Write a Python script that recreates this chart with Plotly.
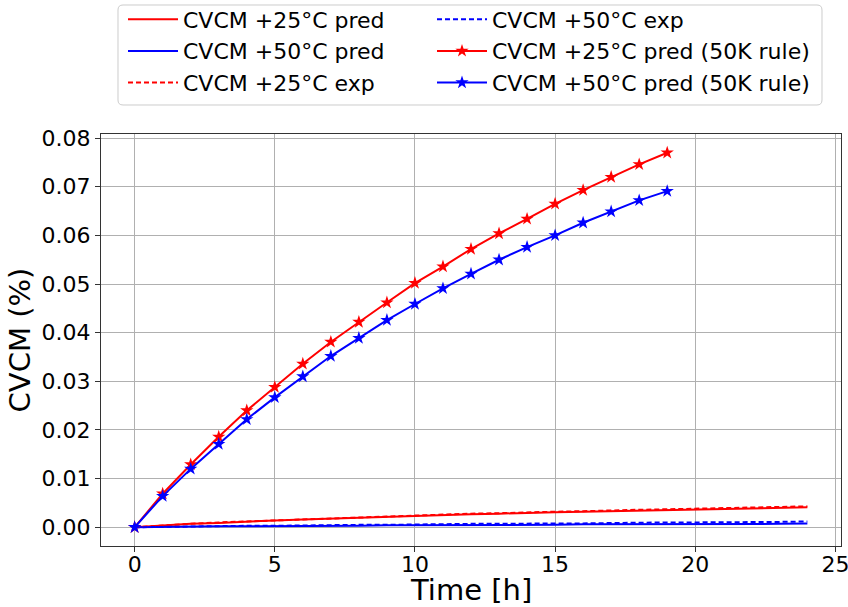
import plotly.graph_objects as go

# ---------------- data ----------------
t_full = list(range(0, 25))
red_pred = [0, 0.0004, 0.0007, 0.0009, 0.0012, 0.0014, 0.0016, 0.0018, 0.0020, 0.0022,
            0.0024, 0.0025, 0.0027, 0.0028, 0.0030, 0.0031, 0.0032, 0.0033, 0.0035, 0.0036,
            0.0037, 0.0038, 0.0039, 0.0040, 0.0041]
blue_pred = [0, 0.0001, 0.0001, 0.0002, 0.0002, 0.0002, 0.0003, 0.0003, 0.0003, 0.0004,
             0.0004, 0.0004, 0.0005, 0.0005, 0.0005, 0.0005, 0.0006, 0.0006, 0.0006, 0.0006,
             0.0007, 0.0007, 0.0007, 0.0007, 0.0008]
red_exp = [0, 0.0004, 0.0007, 0.0010, 0.0012, 0.0015, 0.0017, 0.0019, 0.0021, 0.0023,
           0.0025, 0.0026, 0.0028, 0.0029, 0.0031, 0.0032, 0.0033, 0.0035, 0.0036, 0.0037,
           0.0038, 0.0039, 0.0041, 0.0042, 0.0043]
blue_exp = [0, 0.0001, 0.0002, 0.0002, 0.0003, 0.0003, 0.0004, 0.0004, 0.0005, 0.0005,
            0.0006, 0.0006, 0.0007, 0.0007, 0.0008, 0.0008, 0.0008, 0.0009, 0.0009, 0.0010,
            0.0010, 0.0010, 0.0011, 0.0011, 0.0012]

t_50k = list(range(0, 20))
red_50k = [0, 0.0069, 0.0129, 0.0186, 0.0240, 0.0288, 0.0336, 0.0381, 0.0422, 0.0462,
           0.0502, 0.0536, 0.0572, 0.0604, 0.0634, 0.0665, 0.0693, 0.0720, 0.0746, 0.0770]
blue_50k = [0, 0.0064, 0.0120, 0.0171, 0.0222, 0.0267, 0.0310, 0.0352, 0.0389, 0.0426,
            0.0459, 0.0491, 0.0521, 0.0550, 0.0576, 0.0600, 0.0626, 0.0649, 0.0672, 0.0691]

x_ticks = [0, 5, 10, 15, 20, 25]
y_ticks = [0.00, 0.01, 0.02, 0.03, 0.04, 0.05, 0.06, 0.07, 0.08]

RED = "#ff0000"
BLUE = "#0000ff"
FONT = "DejaVu Sans"

fig = go.Figure()
fig.add_trace(go.Scatter(x=t_full, y=red_pred, mode="lines", name="CVCM +25°C pred",
                         line=dict(color=RED, width=2), legend="legend"))
fig.add_trace(go.Scatter(x=t_full, y=blue_pred, mode="lines", name="CVCM +50°C pred",
                         line=dict(color=BLUE, width=2), legend="legend"))
fig.add_trace(go.Scatter(x=t_full, y=red_exp, mode="lines", name="CVCM +25°C exp",
                         line=dict(color=RED, width=2, dash="5px,3px"), legend="legend"))
fig.add_trace(go.Scatter(x=t_full, y=blue_exp, mode="lines", name="CVCM +50°C exp",
                         line=dict(color=BLUE, width=2, dash="5px,3px"), legend="legend2"))
fig.add_trace(go.Scatter(x=t_50k, y=red_50k, mode="lines+markers", name="CVCM +25°C pred (50K rule)",
                         line=dict(color=RED, width=2),
                         marker=dict(symbol="star", size=10, color=RED, line=dict(width=0)),
                         legend="legend2"))
fig.add_trace(go.Scatter(x=t_50k, y=blue_50k, mode="lines+markers", name="CVCM +50°C pred (50K rule)",
                         line=dict(color=BLUE, width=2),
                         marker=dict(symbol="star", size=10, color=BLUE, line=dict(width=0)),
                         legend="legend2"))

# plot-area geometry (px)
L, R, T, B = 101, 7, 134, 61
W, H = 848, 607
pw, ph = W - L - R, H - T - B


def px_to_paper(x, y):
    return (x - L) / pw, (H - B - y) / ph


# rounded legend frame
x0, y0, x1, y1, r = 118, 5, 822, 105, 5
def P(x, y):
    a, b = px_to_paper(x, y)
    return f"{a:.5f},{b:.5f}"
path = (f"M {P(x0 + r, y0)} L {P(x1 - r, y0)} Q {P(x1, y0)} {P(x1, y0 + r)} "
        f"L {P(x1, y1 - r)} Q {P(x1, y1)} {P(x1 - r, y1)} L {P(x0 + r, y1)} "
        f"Q {P(x0, y1)} {P(x0, y1 - r)} L {P(x0, y0 + r)} Q {P(x0, y0)} {P(x0 + r, y0)} Z")
fig.add_shape(type="path", path=path, xref="paper", yref="paper",
              line=dict(color="#cccccc", width=1), fillcolor="rgba(255,255,255,0.8)", layer="above")

lx1, ly = px_to_paper(123, -1.5)
lx2, _ = px_to_paper(432, -1.5)
leg_common = dict(font=dict(family=FONT, size=22, color="black"), bgcolor="rgba(0,0,0,0)",
                  borderwidth=0, yanchor="top", xanchor="left", itemwidth=50,
                  orientation="v", tracegroupgap=0)

tick_font = dict(family=FONT, size=22, color="black")
title_font = dict(family=FONT, size=29, color="black")

# x-axis title centred under the axis
fig.add_annotation(text="Time [h]", xref="paper", yref="paper", x=0.5,
                   y=px_to_paper(0, 590)[1], xanchor="center", yanchor="middle", showarrow=False,
                   font=title_font)

fig.update_layout(
    width=W, height=H,
    margin=dict(l=L, r=R, t=T, b=B, pad=0, autoexpand=False),
    paper_bgcolor="white", plot_bgcolor="white",
    font=dict(family=FONT, size=22, color="black"),
    legend=dict(x=lx1, y=ly, **leg_common),
    legend2=dict(x=lx2, y=ly, **leg_common),
    xaxis=dict(range=[-1.2, 25.2], tickvals=x_ticks, ticktext=[str(v) for v in x_ticks],
               automargin=False, ticklabeloverflow="allow", ticklabelstandoff=-7,
               showgrid=True, gridcolor="#b0b0b0", gridwidth=1, zeroline=False,
               showline=True, mirror=True, linecolor="#333333", linewidth=1.3,
               ticks="outside", ticklen=5, tickcolor="#333333",
               tickfont=tick_font),
    yaxis=dict(range=[-0.00385, 0.08085], tickvals=y_ticks, ticktext=[f"{v:.2f}" for v in y_ticks],
               automargin=False,
               showgrid=True, gridcolor="#b0b0b0", gridwidth=1, zeroline=False,
               showline=True, mirror=True, linecolor="#333333", linewidth=1.3,
               ticks="outside", ticklen=5, tickcolor="#333333",
               tickfont=tick_font,
               title=dict(text="CVCM (%)", font=title_font, standoff=2)),
)

fig.write_html("out.html")
